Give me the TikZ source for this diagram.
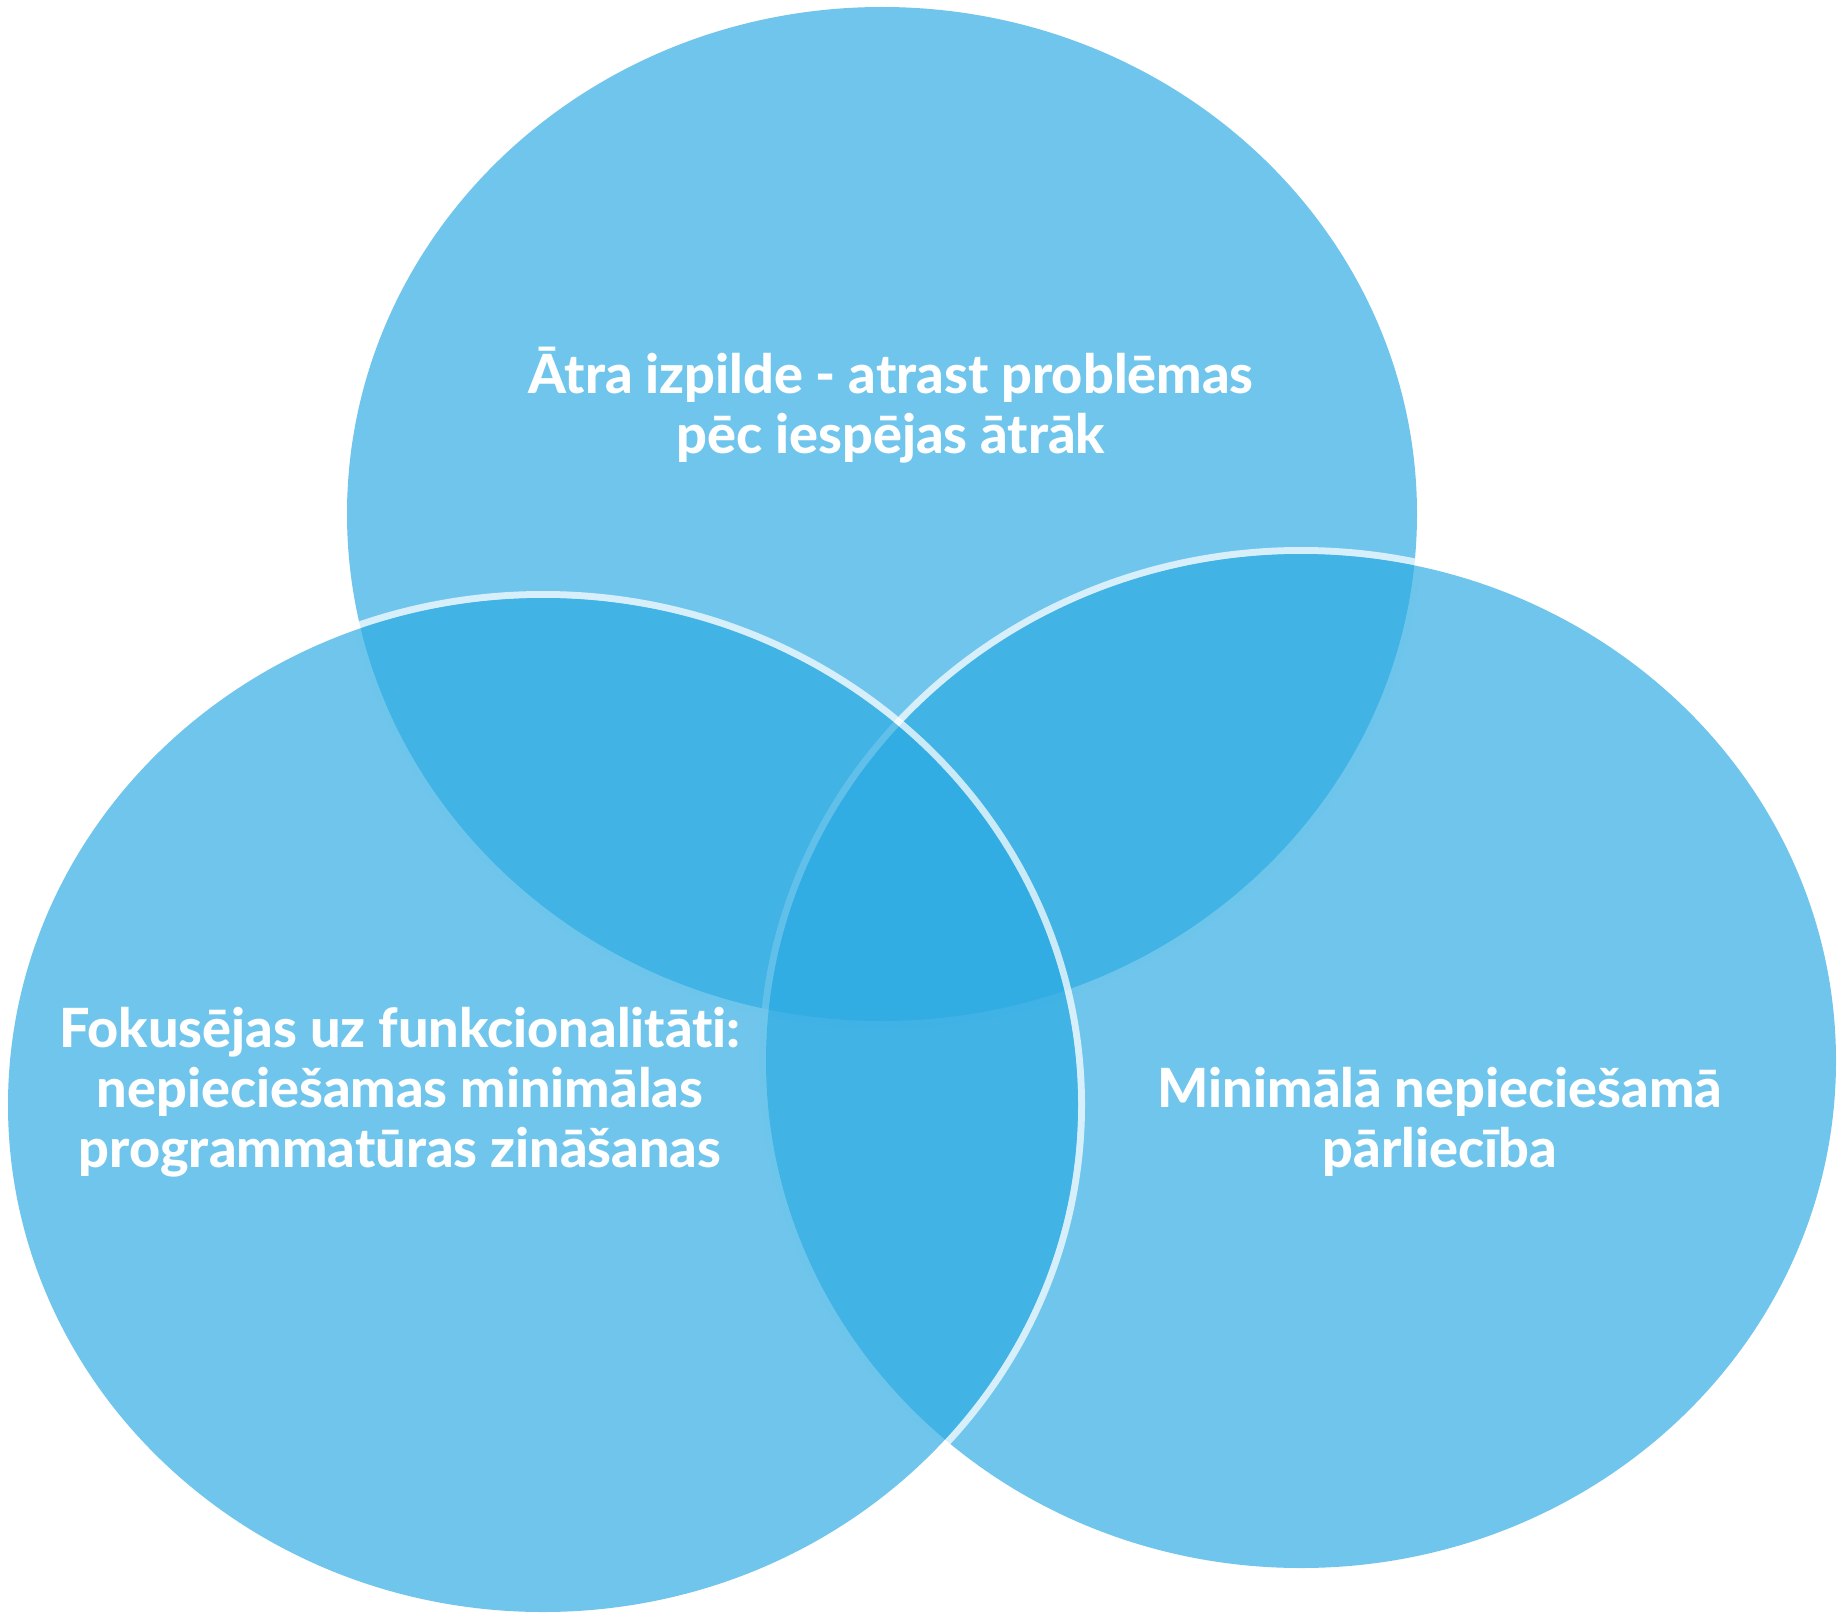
\documentclass[tikz,border=0pt]{standalone}
\usepackage{fontspec}
\setmainfont{Lato}[BoldFont={Lato Heavy},Ligatures=NoCommon]
\definecolor{vennblue}{RGB}{43,170,226}
\tikzset{
  vennrim/.style={draw=white, draw opacity=0.72, line width=7pt},
  vennset/.style={fill=vennblue, fill opacity=0.68},
  vennlabel/.style={text=white, font=\fontsize{54}{60}\selectfont\bfseries, align=center, inner sep=0pt, anchor=base}
}
\begin{document}
\begin{tikzpicture}[x=1pt,y=-1pt]

\useasboundingbox (0,0) rectangle (1844,1621);

% ELIPSE CIMA
\draw[vennrim] (882,514) ellipse [x radius=538.5, y radius=510.5];
\fill[vennset] (882,514) ellipse [x radius=535, y radius=507];

% ELIPSE DIREITA
\draw[vennrim] (1301,1061) ellipse [x radius=538.5, y radius=510.5];
\fill[vennset] (1301,1061) ellipse [x radius=535, y radius=507];

% ELIPSE ESQUERDA
\draw[vennrim] (543,1105) ellipse [x radius=538.5, y radius=510.5];
\fill[vennset] (543,1105) ellipse [x radius=535, y radius=507];

% TEXTOS
\node[vennlabel] (rapida) at (891,453)
{Ātra izpilde - atrast problēmas\\
pēc iespējas ātrāk};

\node[vennlabel] (funcional) at (400,1167)
{Fokusējas uz funkcionalitāti:\\
nepieciešamas minimālas\\
programmatūras zināšanas};

\node[vennlabel] (parliec) at (1440,1167)
{Minimālā nepieciešamā\\
pārliecība};

\end{tikzpicture}
\end{document}
